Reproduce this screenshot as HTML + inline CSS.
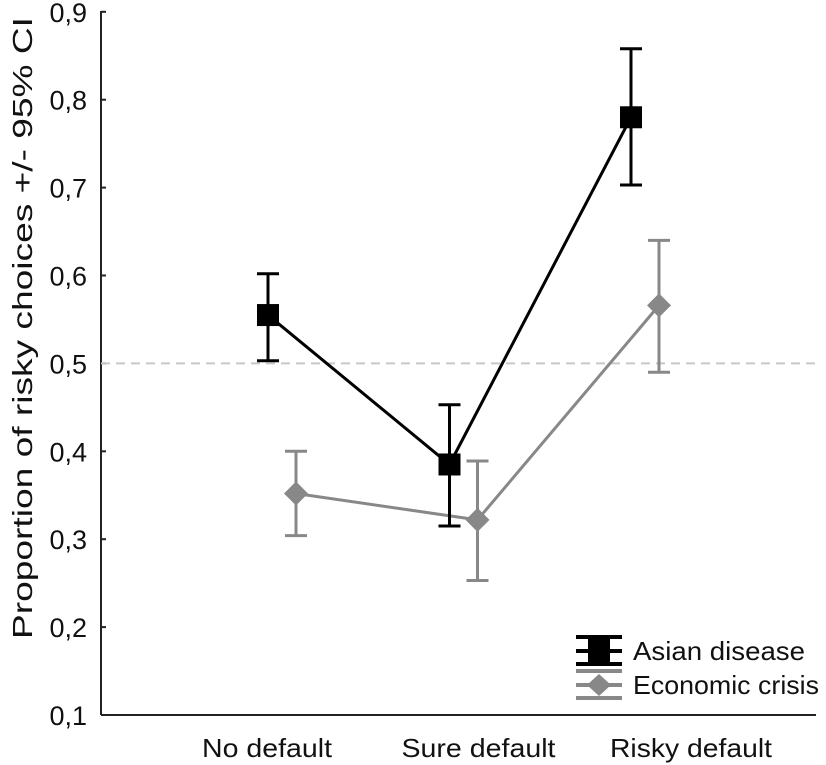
<!DOCTYPE html>
<html><head><meta charset="utf-8"><style>
body{margin:0;background:#fff}
svg{display:block;font-family:"Liberation Sans",Arial,sans-serif}
</style></head><body>
<svg id="chart" width="826" height="765">
<g id="axes"></g><g id="marks"></g>
<g>
 <g>
  <line x1="576" y1="637" x2="622" y2="637" stroke="#000" stroke-width="4"/>
  <line x1="576" y1="664" x2="622" y2="664" stroke="#000" stroke-width="4"/>
  <line x1="576" y1="651" x2="622" y2="651" stroke="#000" stroke-width="4"/>
  <rect x="588" y="639" width="22" height="24" fill="#000"/>
  <text x="633" y="660" font-size="26" fill="#111" textLength="172" lengthAdjust="spacingAndGlyphs">Asian disease</text>
 </g>
 <g>
  <line x1="576" y1="671" x2="622" y2="671" stroke="#888" stroke-width="4"/>
  <line x1="576" y1="698" x2="622" y2="698" stroke="#888" stroke-width="4"/>
  <line x1="576" y1="685" x2="622" y2="685" stroke="#888" stroke-width="4"/>
  <polygon points="599,674 611,685 599,696 587,685" fill="#888"/>
  <text x="633" y="694" font-size="26" fill="#111" textLength="186" lengthAdjust="spacingAndGlyphs">Economic crisis</text>
 </g>
</g>
</svg>
<script>
const categories=["No default","Sure default","Risky default"];
const asianMean=[0.555,0.385,0.78];
const asianLow=[0.503,0.315,0.703];
const asianHigh=[0.602,0.453,0.858];
const econMean=[0.352,0.322,0.566];
const econLow=[0.304,0.253,0.49];
const econHigh=[0.40,0.389,0.64];
const yTicks=[0.1,0.2,0.3,0.4,0.5,0.6,0.7,0.8,0.9];
const NS="http://www.w3.org/2000/svg";
const y=v=>715-(v-0.1)*879;
const xc=i=>268+i*181.5;
function mk(p,t,a){const e=document.createElementNS(NS,t);for(const k in a)e.setAttribute(k,a[k]);p.appendChild(e);return e;}
const ax=document.getElementById('axes'),mg=document.getElementById('marks');
let l=mk(ax,'line',{x1:101,y1:11,x2:101,y2:715,stroke:'#222','stroke-width':2});


l=mk(ax,'line',{x1:101,y1:715,x2:816,y2:715,stroke:'#222','stroke-width':2});


yTicks.forEach(v=>{
 mk(ax,'line',{x1:101,y1:y(v),x2:106,y2:y(v),stroke:'#222','stroke-width':2});
 const t=mk(ax,'text',{x:87,y:y(v)+10,'text-anchor':'end','font-size':27,fill:'#111'});
 t.textContent=v.toFixed(1).replace('.',',');
 
 
});
const xLen=[130,154,162];
const xShift=[-1,29,60];
categories.forEach((c,i)=>{
 const t=mk(ax,'text',{x:xc(i)+xShift[i],y:757,'text-anchor':'middle','font-size':26,fill:'#111',textLength:xLen[i],lengthAdjust:'spacingAndGlyphs'});
 t.textContent=c;
 
 
});
const yt=mk(ax,'text',{x:0,y:0,transform:'translate(32,328) rotate(-90)','text-anchor':'middle','font-size':28,fill:'#111',textLength:622,lengthAdjust:'spacingAndGlyphs'});
yt.textContent='Proportion of risky choices +/- 95% CI';


const ref=mk(ax,'line',{x1:101,y1:y(0.5),x2:816,y2:y(0.5),stroke:'#c8c8c8','stroke-width':2,'stroke-dasharray':'9,6'});


function series(mean,lo,hi,off,col,name,sq){
 const pts=mean.map((v,i)=>(xc(i)+off)+','+y(v)).join(' ');
 const pl=mk(mg,'polyline',{points:pts,fill:'none',stroke:col,'stroke-width':3});
 
 
 mean.forEach((v,i)=>{
  const x=xc(i)+off;
  const g=mk(mg,'g',{});
  
  
  mk(g,'line',{x1:x,y1:y(lo[i]),x2:x,y2:y(hi[i]),stroke:col,'stroke-width':3});
  mk(g,'line',{x1:x-11,y1:y(lo[i]),x2:x+11,y2:y(lo[i]),stroke:col,'stroke-width':3});
  mk(g,'line',{x1:x-11,y1:y(hi[i]),x2:x+11,y2:y(hi[i]),stroke:col,'stroke-width':3});
  if(sq) mk(g,'rect',{x:x-11,y:y(v)-11,width:22,height:22,fill:col});
  else mk(g,'polygon',{points:`${x},${y(v)-12} ${x+12},${y(v)} ${x},${y(v)+12} ${x-12},${y(v)}`,fill:col});
 });
}
series(econMean,econLow,econHigh,28,'#888','economic-crisis',false);
series(asianMean,asianLow,asianHigh,0,'#000','asian-disease',true);
</script>
</body></html>
